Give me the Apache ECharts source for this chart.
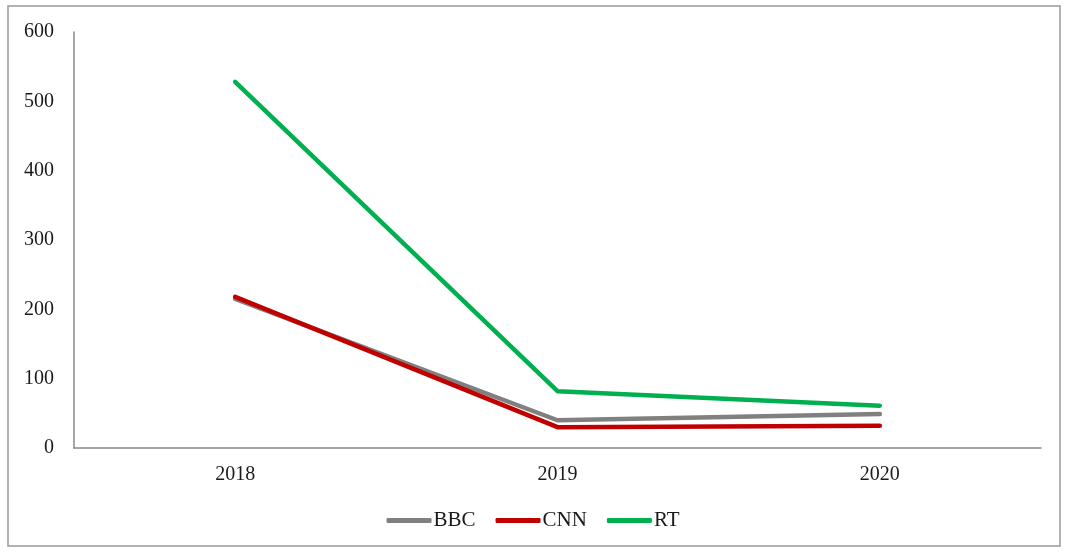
<!DOCTYPE html>
<html><head><meta charset="utf-8">
<script src="https://cdn.jsdelivr.net/npm/echarts@6/dist/echarts.min.js"></script>
<style>html,body{margin:0;padding:0;background:#fff}#c{width:1066px;height:552px}</style>
</head><body><div id="c"></div>
<script>
const categories = ['2018', '2019', '2020'];
const bbc = [215, 40, 49];
const cnn = [218, 30, 32];
const rt = [528, 82, 61];
const yTicks = [0, 100, 200, 300, 400, 500, 600];

const chart = echarts.init(document.getElementById('c'));
const font = '"Liberation Serif", "Times New Roman", serif';
const mk = (name, data, color) => ({
  name, type: 'line', data, symbol: 'none',
  lineStyle: { color, width: 4.5, cap: 'round', join: 'round' },
  itemStyle: { color }
});
chart.setOption({
  backgroundColor: '#fff',
  animation: false,
  textStyle: { fontFamily: font },
  graphic: [{ type: 'rect', shape: { x: 8, y: 6, width: 1052, height: 540 },
    style: { fill: 'none', stroke: '#999', lineWidth: 1.5 } }],
  grid: { left: 74, right: 25, top: 32, bottom: 104 },
  legend: {
    bottom: 16, left: 'center', itemWidth: 45, itemHeight: 5, itemGap: 20,
    icon: 'roundRect',
    textStyle: { fontFamily: font, fontSize: 21, color: '#1a1a1a', padding: [0, 0, 0, -3] },
    data: ['BBC', 'CNN', 'RT']
  },
  xAxis: {
    type: 'category', data: categories, boundaryGap: true,
    axisLine: { lineStyle: { color: '#888', width: 1.5 } },
    axisTick: { show: false },
    axisLabel: { fontFamily: font, fontSize: 20, color: '#1a1a1a', margin: 17 }
  },
  yAxis: {
    type: 'value', min: yTicks[0], max: yTicks[yTicks.length - 1], interval: 100,
    axisLine: { show: true, lineStyle: { color: '#888', width: 1.5 } },
    axisTick: { show: false },
    splitLine: { show: false },
    axisLabel: { fontFamily: font, fontSize: 20, color: '#1a1a1a', margin: 20 }
  },
  series: [mk('BBC', bbc, '#808080'), mk('CNN', cnn, '#C00000'), mk('RT', rt, '#00B050')]
});
</script></body></html>
